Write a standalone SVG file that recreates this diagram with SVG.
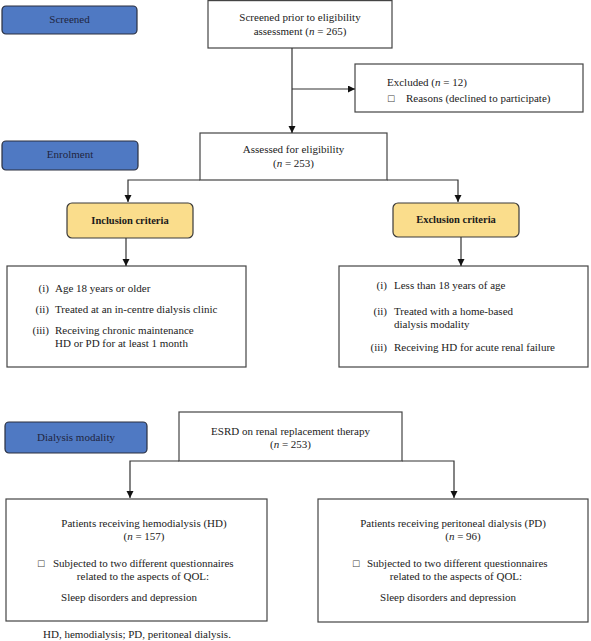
<svg xmlns="http://www.w3.org/2000/svg" width="591" height="641" viewBox="0 0 591 641" font-family="'Liberation Serif', 'Times New Roman', 'DejaVu Serif', serif">
<defs>
<style>
text{font-family:"Liberation Serif","Times New Roman","DejaVu Serif",serif;font-size:11px;fill:#222;}
.c{text-anchor:middle;}
.r{text-anchor:end;}
.b{font-weight:bold;font-size:10.5px;fill:#1a1a1a;}
.lab{fill:#1f2540;}
.box{fill:#fff;stroke:#444;stroke-width:1.2;}
.blue{fill:#4f79c3;stroke:#2a2f3f;stroke-width:1.2;}
.yel{fill:#fadd8c;stroke:#3a3a3a;stroke-width:1.2;}
text.chk{font-family:"DejaVu Sans",sans-serif;font-size:9px;fill:#444;}
.conn path{fill:none;stroke:#333;stroke-width:1.2;}
</style>
<marker id="ah" markerUnits="userSpaceOnUse" markerWidth="8" markerHeight="8" refX="7" refY="3.5" orient="auto">
<path d="M0,0 L7,3.5 L0,7 z" fill="#111"/>
</marker>
</defs>
<rect width="591" height="641" fill="#fff"/>

<g id="screened-label"><rect class="blue" x="2" y="6" width="135" height="28" rx="4"/><text class="c lab" x="69.5" y="23">Screened</text></g>
<g id="enrolment-label"><rect class="blue" x="2" y="141" width="136" height="29" rx="4"/><text class="c lab" x="70" y="158">Enrolment</text></g>
<g id="dialysis-label"><rect class="blue" x="5" y="422" width="142" height="31" rx="4"/><text class="c lab" x="76" y="441">Dialysis modality</text></g>

<g id="screened"><rect class="box" x="208" y="0.6" width="184" height="47.4"/>
<text class="c" x="300" y="21">Screened prior to eligibility</text>
<text class="c" x="300" y="35">assessment (<tspan font-style="italic">n</tspan> = 265)</text></g>

<g id="excluded"><rect class="box" x="355" y="64" width="228" height="48"/>
<text x="387" y="86">Excluded (<tspan font-style="italic">n</tspan> = 12)</text>
<text class="chk" x="387" y="102">☐</text>
<text x="406" y="102">Reasons (declined to participate)</text></g>

<g id="assessed"><rect class="box" x="200" y="133" width="187" height="47"/>
<text class="c" x="293.5" y="153">Assessed for eligibility</text>
<text class="c" x="293.5" y="167">(<tspan font-style="italic">n</tspan> = 253)</text></g>

<g id="inclusion"><rect class="yel" x="67" y="203" width="126" height="35" rx="5"/><text class="c b" x="130" y="224">Inclusion criteria</text></g>
<g id="exclusion"><rect class="yel" x="393" y="203" width="126" height="34" rx="5"/><text class="c b" x="456" y="223">Exclusion criteria</text></g>

<g id="inclusion-list"><rect class="box" x="7" y="266" width="239" height="101"/>
<text class="r" x="49" y="292">(i)</text><text x="55" y="292">Age 18 years or older</text>
<text class="r" x="49" y="313">(ii)</text><text x="55" y="313">Treated at an in-centre dialysis clinic</text>
<text class="r" x="49" y="334">(iii)</text><text x="55" y="334">Receiving chronic maintenance</text>
<text x="55" y="347">HD or PD for at least 1 month</text></g>

<g id="exclusion-list"><rect class="box" x="339" y="266" width="249" height="101"/>
<text class="r" x="387" y="289">(i)</text><text x="394" y="289">Less than 18 years of age</text>
<text class="r" x="387" y="315">(ii)</text><text x="394" y="315">Treated with a home-based</text>
<text x="394" y="328">dialysis modality</text>
<text class="r" x="387" y="351">(iii)</text><text x="394" y="351">Receiving HD for acute renal failure</text></g>

<g id="esrd"><rect class="box" x="179" y="412" width="223" height="49"/>
<text class="c" x="290.5" y="435">ESRD on renal replacement therapy</text>
<text class="c" x="290.5" y="448">(<tspan font-style="italic">n</tspan> = 253)</text></g>

<g id="hd"><rect class="box" x="6" y="499" width="261" height="122"/>
<text class="c" x="144" y="527">Patients receiving hemodialysis (HD)</text>
<text class="c" x="144" y="540">(<tspan font-style="italic">n</tspan> = 157)</text>
<text class="chk" x="37" y="567">☐</text>
<text x="53" y="567">Subjected to two different questionnaires</text>
<text class="c" x="143" y="580">related to the aspects of QOL:</text>
<text class="c" x="129" y="601">Sleep disorders and depression</text></g>

<g id="pd"><rect class="box" x="318" y="499" width="270" height="123"/>
<text class="c" x="453" y="527">Patients receiving peritoneal dialysis (PD)</text>
<text class="c" x="463" y="540">(<tspan font-style="italic">n</tspan> = 96)</text>
<text class="chk" x="352" y="567">☐</text>
<text x="367" y="567">Subjected to two different questionnaires</text>
<text class="c" x="456" y="580">related to the aspects of QOL:</text>
<text class="c" x="448" y="601">Sleep disorders and depression</text></g>

<g id="caption"><text x="43" y="638">HD, hemodialysis; PD, peritoneal dialysis.</text></g>

<g class="conn" id="connectors">
<path d="M292,48 V133" marker-end="url(#ah)"/>
<path d="M292,89 H355" marker-end="url(#ah)"/>
<path d="M200,180 H128 V202" marker-end="url(#ah)"/>
<path d="M387,180 H458 V202" marker-end="url(#ah)"/>
<path d="M126,238 V266" marker-end="url(#ah)"/>
<path d="M461,237 V266" marker-end="url(#ah)"/>
<path d="M179,461 H130 V498" marker-end="url(#ah)"/>
<path d="M402,461 H454 V498" marker-end="url(#ah)"/>
</g>
</svg>
